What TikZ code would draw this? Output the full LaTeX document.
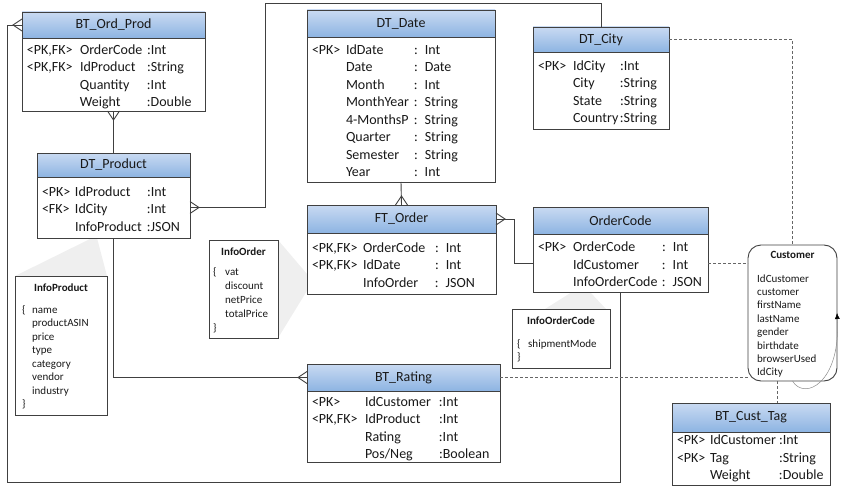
\documentclass[tikz,border=0pt]{standalone}
\usepackage{fontspec}
\setmainfont{Carlito}
\usetikzlibrary{positioning,calc,arrows.meta}
\definecolor{hdrtop}{HTML}{C9DAF2}
\definecolor{hdrbot}{HTML}{8DB4E2}
\definecolor{edge}{HTML}{404040}
\definecolor{wedge}{HTML}{EFEFEF}

% rows sit a little low in their box
\newcommand{\rowsdown}[1]{\raisebox{-2.5pt}[\height][\depth]{#1}}

\tikzset{
  tblhead/.style={draw=edge, line width=0.9pt, top color=hdrtop, bottom color=hdrbot, anchor=north west,
    inner sep=0pt, outer sep=0pt, text=black!90, font=\fontsize{14}{17}\selectfont},
  tblbody/.style={draw=edge, line width=0.9pt, fill=white, anchor=north west, inner xsep=5pt, inner ysep=0pt,
    outer sep=0pt, align=left, text=black!90, font=\fontsize{14}{17.5}\selectfont},
  infobox/.style={draw=edge, line width=0.9pt, fill=white, anchor=north west, inner sep=0pt, outer sep=0pt},
  infotitle/.style={inner sep=0pt, text=black!90, font=\fontsize{11}{13}\selectfont\bfseries},
  infolist/.style={inner sep=0pt, anchor=north west, align=left, text=black!90, font=\fontsize{11}{13.5}\selectfont},
  rel/.style={draw=edge, line width=0.9pt},
  opt/.style={draw=edge!80, line width=0.9pt, dash pattern=on 3pt off 2pt},
  selfloop/.style={draw=edge!60, line width=0.5pt, -{Latex[length=6pt,width=5pt,black]}},
}

\begin{document}
\begin{tikzpicture}[x=1pt, y=-1pt]
        \useasboundingbox (0,0) rectangle (841,487);

        % json callouts (behind the tables)
        \fill[wedge] (92,238) -- (97,238) -- (107,276) -- (15,276) -- cycle;
        \fill[wedge] (278,240) -- (313,281) -- (278,338) -- cycle;
        \fill[wedge] (572,292) -- (590,292) -- (606,309) -- (545,309) -- cycle;

        % BT_Ord_Prod
        \node[tblhead, minimum width=183, minimum height=26] (ordprod) at (22,12) {BT\_Ord\_Prod};
        \node[tblbody, text width=173pt, minimum height=73] (ordprodB) at (ordprod.south west) {\rowsdown{%
            \begin{tabular}{@{}p{53pt}@{}p{67pt}@{}l@{}}
            <PK,FK> & OrderCode & :Int\\
            <PK,FK> & IdProduct & :String\\
                    & Quantity  & :Int\\
                    & Weight    & :Double
            \end{tabular}}};

        % DT_Product
        \node[tblhead, minimum width=153, minimum height=24] (prod) at (37,153) {DT\_Product};
        \node[tblbody, text width=143pt, minimum height=61] (prodB) at (prod.south west) {\rowsdown{%
            \begin{tabular}{@{}p{33pt}@{}p{72pt}@{}l@{}}
            <PK> & IdProduct   & :Int\\
            <FK> & IdCity      & :Int\\
                 & InfoProduct & :JSON
            \end{tabular}}};

        % DT_Date
        \node[tblhead, minimum width=188, minimum height=27] (date) at (307,10) {DT\_Date};
        \node[tblbody, text width=178pt, minimum height=145] (dateB) at (date.south west) {\rowsdown{%
            \begin{tabular}{@{}p{34pt}@{}p{68pt}@{}l@{}}
            <PK> & IdDate    & : Int\\
                 & Date      & : Date\\
                 & Month     & : Int\\
                 & MonthYear & : String\\
                 & 4-MonthsP & : String\\
                 & Quarter   & : String\\
                 & Semester  & : String\\
                 & Year      & : Int
            \end{tabular}}};

        % DT_City
        \node[tblhead, minimum width=136, minimum height=25] (city) at (533,27) {DT\_City};
        \node[tblbody, text width=126pt, minimum height=77] (cityB) at (city.south west) {\rowsdown{%
            \begin{tabular}{@{}p{35pt}@{}p{47pt}@{}l@{}}
            <PK> & IdCity  & :Int\\
                 & City    & :String\\
                 & State   & :String\\
                 & Country & :String
            \end{tabular}}};

        % FT_Order
        \node[tblhead, minimum width=189, minimum height=28] (order) at (307,205) {FT\_Order};
        \node[tblbody, text width=179pt, minimum height=61] (orderB) at (order.south west) {\rowsdown{%
            \begin{tabular}{@{}p{51pt}@{}p{72pt}@{}l@{}}
            <PK,FK> & OrderCode & : Int\\
            <PK,FK> & IdDate    & : Int\\
                    & InfoOrder & : JSON
            \end{tabular}}};

        % OrderCode
        \node[tblhead, minimum width=175, minimum height=27] (ocode) at (533,207) {OrderCode};
        \node[tblbody, text width=165pt, minimum height=58] (ocodeB) at (ocode.south west) {\rowsdown{%
            \begin{tabular}{@{}p{35pt}@{}p{89pt}@{}l@{}}
            <PK> & OrderCode     & : Int\\
                 & IdCustomer    & : Int\\
                 & InfoOrderCode & : JSON
            \end{tabular}}};

        % BT_Rating
        \node[tblhead, minimum width=193, minimum height=27] (rating) at (307,364) {BT\_Rating};
        \node[tblbody, text width=183pt, minimum height=71] (ratingB) at (rating.south west) {\rowsdown{%
            \begin{tabular}{@{}p{53pt}@{}p{74pt}@{}l@{}}
            <PK>    & IdCustomer & :Int\\
            <PK,FK> & IdProduct  & :Int\\
                    & Rating     & :Int\\
                    & Pos/Neg    & :Boolean
            \end{tabular}}};

        % BT_Cust_Tag
        \node[tblhead, minimum width=158, minimum height=29] (tag) at (672,403) {BT\_Cust\_Tag};
        \node[tblbody, text width=148pt, minimum height=53] (tagB) at (tag.south west) {%
            \begin{tabular}{@{}p{33pt}@{}p{69pt}@{}l@{}}
            <PK> & IdCustomer & :Int\\
            <PK> & Tag        & :String\\
                 & Weight     & :Double
            \end{tabular}};

        % json documents
        \node[infobox, minimum width=92, minimum height=139] (iprod) at (15,276) {};
        \node[infotitle, below=8pt of iprod.north] (iprodT) {InfoProduct};
        \node[infolist] (iprodL) at ([shift={(7,27.5)}]iprod.north west) {%
            \begin{tabular}{@{}p{10pt}@{}l@{}}
            \{ & name\\ & productASIN\\ & price\\ & type\\ & category\\ & vendor\\ & industry\\ \} &
            \end{tabular}};

        \node[infobox, minimum width=69, minimum height=98] (iorder) at (209,240) {};
        \node[infotitle, below=8pt of iorder.north] (iorderT) {InfoOrder};
        \node[infolist, font=\fontsize{11}{14}\selectfont] (iorderL) at ([shift={(4,25.2)}]iorder.north west) {%
            \begin{tabular}{@{}p{12pt}@{}l@{}}
            \{ & vat\\ & discount\\ & netPrice\\ & totalPrice\\ \} &
            \end{tabular}};

        \node[infobox, minimum width=98, minimum height=59] (icode) at (512,309) {};
        \node[infotitle, below=8pt of icode.north] (icodeT) {InfoOrderCode};
        \node[infolist] (icodeL) at ([shift={(5,28.5)}]icode.north west) {%
            \begin{tabular}{@{}p{11pt}@{}l@{}}
            \{ & shipmentMode\\ \} &
            \end{tabular}};

        % Customer document
        \node[infobox, rounded corners=13pt, minimum width=89, minimum height=136] (cust) at (748,245) {};
        \node[infotitle, below=6pt of cust.north] (custT) {Customer};
        \node[infolist, font=\fontsize{11}{13.4}\selectfont] (custL) at ([shift={(9,27.6)}]cust.north west) {%
            \begin{tabular}{@{}l@{}}
            IdCustomer\\ customer\\ firstName\\ lastName\\ gender\\ birthdate\\ browserUsed\\ IdCity
            \end{tabular}};

        % relationships
        \coordinate (prodbend) at (265,3);
        \coordinate (loopcorner) at (7,482);
        \coordinate (custtag) at ([xshift=-15pt]cust.south);

        \draw[rel] (ordprodB.south) -- (prod.north);
        \draw[rel] ([xshift=-6pt]ordprodB.south) -- ++(6,9) -- ++(6,-9);

        \draw[rel] (prodB.east) -| (prodbend) -| (city.north);
        \draw[rel] ([yshift=6pt]prodB.east) -- ++(9,6) -- ++(-9,6);

        \draw[rel] (dateB.south) -- (order.north);
        \draw[rel] ([xshift=-6pt]order.north) -- ++(6,-9) -- ++(6,9);

        \draw[rel] (order.east) -| ($(order.east)!.5!(ocodeB.west)$) |- (ocodeB.west);
        \draw[rel] ([yshift=6pt]order.east) -- ++(9,6) -- ++(-9,6);

        \draw[rel] (prodB.south) |- (rating.west);
        \draw[rel] ([yshift=6pt]rating.west) -- ++(-9,6) -- ++(9,6);

        \draw[rel] (ocodeB.south) |- (loopcorner) |- (ordprod.west);
        \draw[rel] ([yshift=6pt]ordprod.west) -- ++(-9,6) -- ++(9,6);

        % links to the customer document
        \draw[opt] (city.east) -| (cust.north);
        \draw[opt] (ocodeB.east) -- (ocodeB.east -| cust.west);
        \draw[opt] (rating.east) -- (rating.east -| cust.west);
        \draw[opt] (custtag) -- (custtag |- tag.north);
        \draw[selfloop] (cust.south) .. controls +(12,20) and +(4,70) .. (cust.east);
    \end{tikzpicture}
\end{document}
